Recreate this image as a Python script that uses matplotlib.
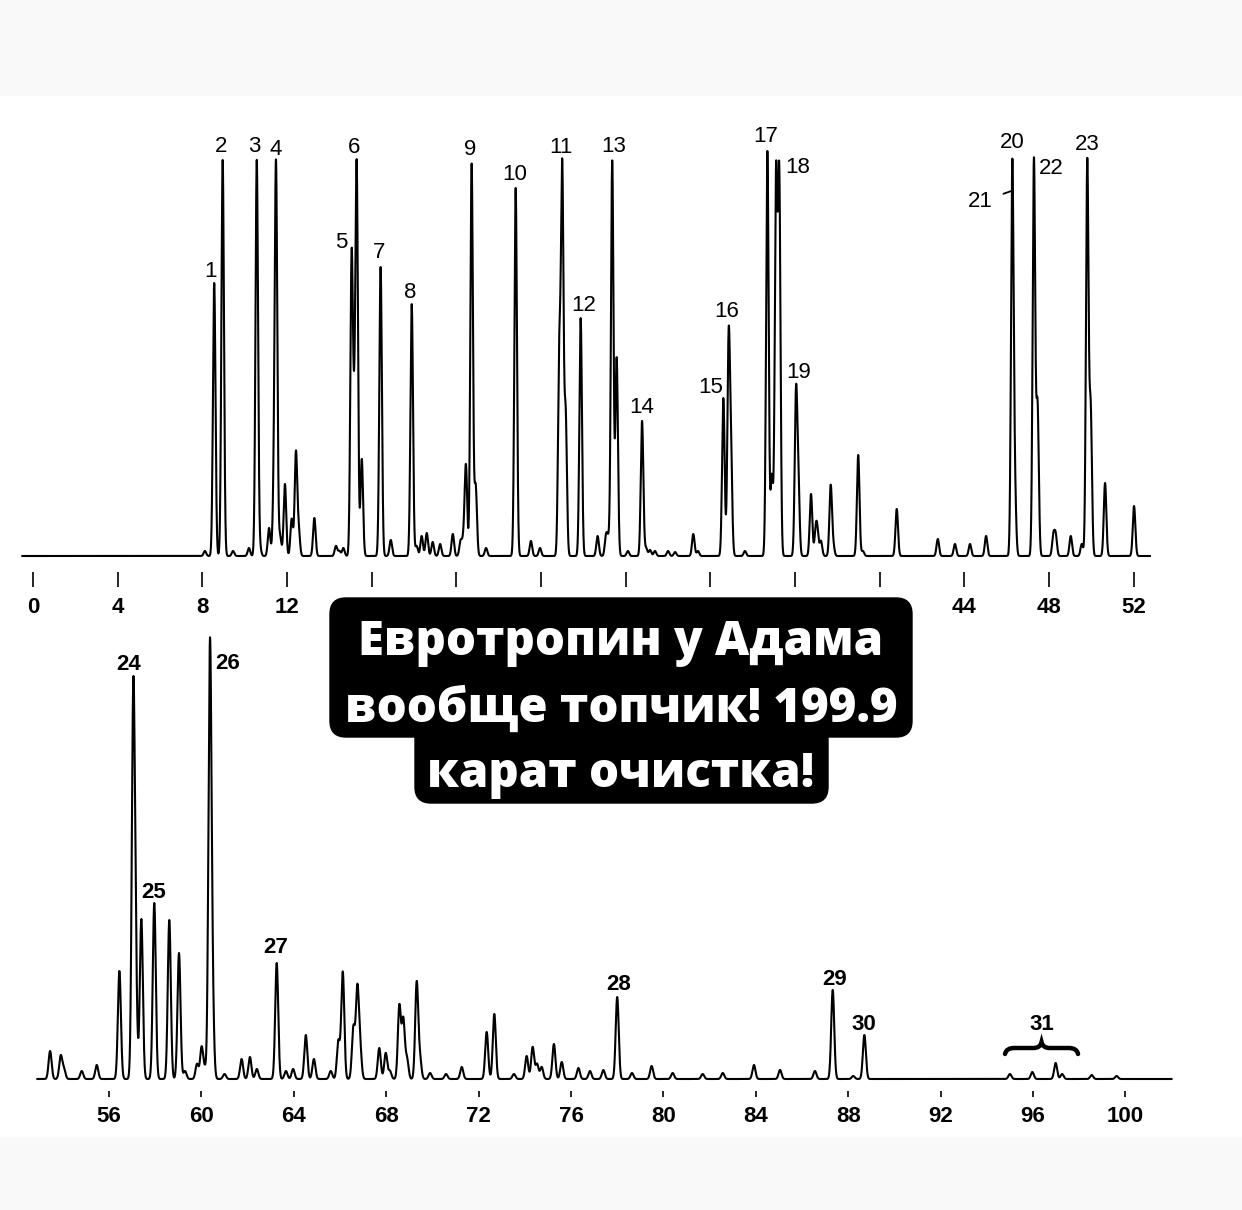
import numpy as np
import matplotlib.pyplot as plt
from matplotlib.patches import FancyBboxPatch, PathPatch, Rectangle
from matplotlib.path import Path
from matplotlib.transforms import IdentityTransform

# ---- run 1 (0-53 min): retention time (min) and peak height ----
top_rt = [8.12, 8.56, 8.96, 9.45, 10.2, 10.57, 10.72, 11.15, 11.38, 11.48,
          11.67, 11.9, 12.22, 12.42, 12.55, 13.29, 14.31, 14.47, 14.66, 15.05,
          15.17, 15.29, 15.53, 16.42, 16.9, 17.89, 18.12, 18.36, 18.6, 18.88,
          19.23, 19.83, 20.2, 20.33, 20.45, 20.72, 20.91, 21.4, 22.8, 23.52,
          23.95, 24.86, 25.0, 25.16, 25.87, 26.67, 27.07, 27.18, 27.36, 27.57,
          28.1, 28.77, 28.96, 29.15, 29.38, 30.0, 30.33, 31.19, 31.41, 32.61,
          32.86, 32.97, 33.63, 34.69, 34.9, 35.1, 35.25, 36.04, 36.15, 36.75,
          36.97, 37.05, 37.22, 37.68, 37.8, 38.98, 39.2, 40.8, 42.74, 43.55,
          44.26, 45.02, 46.26, 46.38, 47.28, 47.45, 48.2, 48.31, 49.02,
          49.54, 49.8, 49.96, 50.64, 52.01]
top_h = [5, 273, 396, 5, 8, 396, 8, 28, 55, 382,
         20, 72, 37, 103, 25, 38, 10, 5, 8, 294,
         95, 383, 97, 289, 16, 252, 10, 20, 23, 14,
         12, 22, 15, 15, 90, 392, 70, 8, 368, 15,
         8, 198, 380, 140, 238, 20, 20, 15, 395, 198,
         5, 135, 8, 6, 5, 5, 4, 22, 5, 158,
         211, 90, 5, 405, 80, 376, 376, 157, 70, 62,
         22, 22, 15, 70, 10, 101, 5, 47, 17, 12,
         12, 20, 389, 60, 396, 150, 20, 20, 20,
         12, 394, 146, 73, 50]
top_num = list(range(1, 24))
top_num_rt = [8.56, 8.96, 10.57, 11.48, 15.05, 15.29, 16.42, 17.89, 20.72, 22.8,
              25.0, 25.87, 27.36, 28.77, 32.61, 32.86, 34.69, 35.1, 36.04, 46.26,
              46.38, 47.28, 49.8]
top_ticks = list(range(0, 53, 4))

# ---- run 2 (53-102 min) ----
bot_rt = [53.45, 53.91, 54.05, 54.82, 55.47, 56.45, 57.05, 57.15, 57.4,
          57.96, 58.61, 59.03, 59.29, 59.81, 60.01, 60.16, 60.37, 60.48, 61.0,
          61.74, 62.1, 62.4, 63.26, 63.66, 63.97, 64.52, 64.87, 65.6, 65.93,
          66.12, 66.58, 66.75, 66.87, 67.7, 67.98, 68.16, 68.57, 68.74, 68.9,
          69.32, 69.46, 69.9, 70.59, 71.27, 72.35, 72.68, 73.53, 74.08, 74.34,
          74.53, 74.73, 75.26, 75.6, 76.32, 76.82, 77.4, 78.0, 78.64, 79.49,
          80.4, 81.7, 82.57, 83.92, 85.05, 86.56, 87.33, 88.22, 88.7, 95.0,
          95.97, 96.98, 97.26, 98.54, 99.62]
bot_h = [28, 23, 10, 8, 14, 108, 369, 100, 160,
         176, 159, 126, 8, 15, 32, 10, 424, 70, 5,
         20, 22, 10, 116, 8, 10, 44, 20, 8, 38,
         107, 51, 88, 30, 31, 26, 8, 73, 59, 20,
         96, 20, 6, 5, 12, 47, 65, 5, 23, 32,
         15, 12, 35, 17, 11, 8, 9, 82, 6, 13,
         6, 5, 6, 14, 9, 8, 89, 3, 44, 5,
         7, 16, 5, 4, 3]
bot_num = [24, 25, 26, 27, 28, 29, 30]
bot_num_rt = [57.05, 57.96, 60.37, 63.26, 78.0, 87.33, 88.7]
group31 = (94.79, 97.95)
bot_ticks = list(range(56, 101, 4))

# label offsets from peak apex, pixels
top_off = {1: (-4, 11), 2: (-2, 13), 3: (-2, 13), 4: (0, 11), 5: (-10, 8),
           6: (-3, 12), 7: (-2, 14), 8: (-2, 12), 9: (-2, 14), 10: (-1, 14),
           11: (-1, 11), 12: (3, 13), 13: (1, 14), 14: (0, 14), 15: (-13, 11),
           16: (-2, 17), 17: (-2, 15), 18: (22, -4), 19: (3, 13), 20: (0, 16),
           22: (17, -11), 23: (0, 13)}
bot_off = {24: (-5, 14), 25: (-1, 10), 26: (18, -26), 27: (-1, 15),
           28: (1, 12), 29: (2, 11), 30: (-1, 10)}

W, H = 1242, 1210
num_font = ['Liberation Sans Narrow', 'Liberation Sans', 'DejaVu Sans']


def trace(t, rts, hs, sigma):
    y = np.zeros_like(t)
    for r, h in zip(rts, hs):
        y += h * np.exp(-0.5 * ((t - r) / sigma) ** 2)
    return y


def style_axis(ax, ticks, spine_y, tick_len, pad):
    for s in ['top', 'left', 'right']:
        ax.spines[s].set_visible(False)
    ax.spines['bottom'].set_position(('data', spine_y))
    ax.spines['bottom'].set_color('none')
    ax.set_yticks([])
    ax.set_xticks(ticks)
    ax.tick_params(axis='x', direction='out', length=tick_len, width=1.2,
                   pad=pad, labelsize=16)
    for lab in ax.get_xticklabels():
        lab.set_fontfamily(num_font)
        lab.set_fontweight('bold')
    ax.patch.set_alpha(0)


fig = plt.figure(figsize=(W / 100, H / 100), dpi=100)
fig.patch.set_facecolor('white')
fig.patches.append(Rectangle((0, 1 - 95 / H), 1, 95 / H, transform=fig.transFigure,
                             color='#f9f9f9', zorder=0))
fig.patches.append(Rectangle((0, 0), 1, 73 / H, transform=fig.transFigure,
                             color='#f9f9f9', zorder=0))

# ---------- top run ----------
ax1 = fig.add_axes([0, 1 - 625 / H, 1, (625 - 97) / H])
ax1.set_xlim(-33 / 21.17, (W - 33) / 21.17)
ax1.set_ylim(-69, 459)
t1 = np.arange(-0.5, 52.76, 0.004)
y1 = trace(t1, top_rt, top_h, 0.06)
ax1.plot(t1, y1, color='black', lw=1.5)
style_axis(ax1, top_ticks, -16, 10.8, 7)

for n, rt in zip(top_num, top_num_rt):
    h = y1[np.argmin(np.abs(t1 - rt))]
    if n == 21:
        continue
    dx, dy = top_off[n]
    ax1.annotate(str(n), xy=(rt, h), xytext=(dx, dy), textcoords='offset pixels',
                 ha='center', va='center', fontsize=16, family=num_font)

# 21 co-elutes on the back of 20
rt20 = top_num_rt[top_num.index(20)]
h20 = y1[np.argmin(np.abs(t1 - rt20))]
ax1.annotate('21', xy=(rt20, h20 * 0.92), xytext=(-32, -43 + h20 * 0.08),
             textcoords='offset pixels', ha='center', va='center', fontsize=16,
             family=num_font,
             arrowprops=dict(arrowstyle='-', color='black', lw=1.3,
                             shrinkA=6, shrinkB=0))

# ---------- bottom run ----------
ax2 = fig.add_axes([0, 1 - 1137 / H, 1, (1137 - 598) / H])
ax2.set_xlim(56 - 109 / 23.1, 56 + (W - 109) / 23.1)
ax2.set_ylim(-58, 481)
t2 = np.arange(52.9, 102.0, 0.004)
y2 = trace(t2, bot_rt, bot_h, 0.065)
ax2.plot(t2, y2, color='black', lw=1.5)
style_axis(ax2, bot_ticks, -12, 4.5, 6)

for n, rt in zip(bot_num, bot_num_rt):
    h = y2[np.argmin(np.abs(t2 - rt))]
    dx, dy = bot_off[n]
    ax2.annotate(str(n), xy=(rt, h), xytext=(dx, dy), textcoords='offset pixels',
                 ha='center', va='center', fontsize=16, family=num_font,
                 fontweight='bold')

# brace over the group 31
x0, x1 = group31
xc = (x0 + x1) / 2
verts = [(x0, 25), (x0 + 0.05, 31), (x0 + 0.4, 31), (xc - 0.35, 31),
         (xc - 0.05, 31), (xc, 37), (xc + 0.05, 31), (xc + 0.35, 31),
         (x1 - 0.4, 31), (x1 - 0.05, 31), (x1, 25)]
codes = [Path.MOVETO, Path.CURVE3, Path.CURVE3, Path.LINETO, Path.CURVE3,
         Path.CURVE3, Path.CURVE3, Path.CURVE3, Path.LINETO, Path.CURVE3,
         Path.CURVE3]
ax2.add_patch(PathPatch(Path(verts, codes), fill=False, lw=3.2, color='black',
                        capstyle='round'))
ax2.annotate('31', xy=(xc, 37), xytext=(0, 17), textcoords='offset pixels',
             ha='center', va='center', fontsize=16, family=num_font,
             fontweight='bold')

# ---------- caption sticker ----------
px = IdentityTransform()
fig.patches.append(FancyBboxPatch((330, H - 737), 582, 139,
                                  boxstyle='round,pad=0,rounding_size=16',
                                  transform=px, color='black', zorder=5))
fig.patches.append(FancyBboxPatch((415, H - 803), 413, 80,
                                  boxstyle='round,pad=0,rounding_size=16',
                                  transform=px, color='black', zorder=5))
caption = ['Евротропин у Адама', 'вообще топчик! 199.9', 'карат очистка!']
for line, base in zip(caption, [655, 722, 787]):
    fig.text(621, H - base, line, transform=px, ha='center', va='baseline',
             color='white', fontsize=34, fontweight=800,
             family=['Open Sans', 'DejaVu Sans'], zorder=6)

fig.savefig('out.png', dpi=100)
